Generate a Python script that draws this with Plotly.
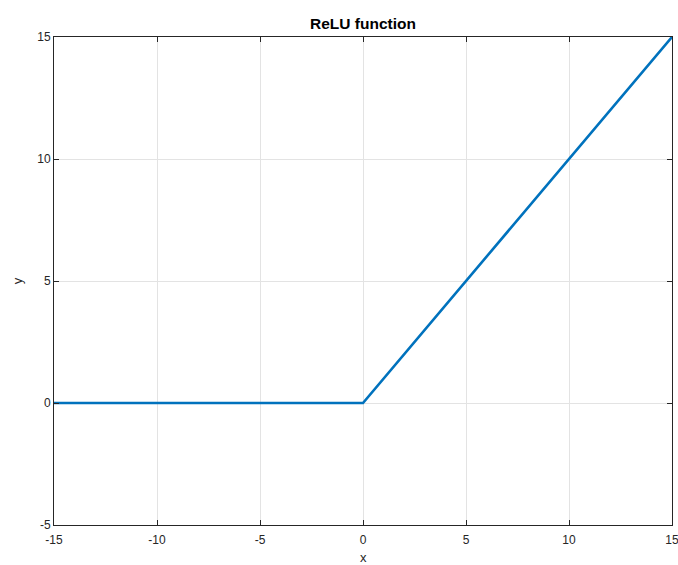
import plotly.graph_objects as go

# ReLU breakpoints: flat at zero for negative inputs, identity for positive
x_vals = [-15, 0, 15]
y_vals = [0, 0, 15]

x_ticks = [-15, -10, -5, 0, 5, 10, 15]
x_tick_text = ["-15", "-10", "-5", "0", "5", "10", "15"]
y_ticks = [-5, 0, 5, 10, 15]
y_tick_text = ["-5", "0", "5", "10", "15"]

FONT = "Liberation Sans, Arial, Helvetica, sans-serif"
AXIS_COLOR = "#262626"
GRID_COLOR = "#e3e3e3"

fig = go.Figure()
fig.add_trace(go.Scatter(
    x=x_vals, y=y_vals, mode="lines",
    line=dict(color="#0072BD", width=2.6),
    showlegend=False,
))

axis_common = dict(
    showline=True, linecolor=AXIS_COLOR, linewidth=1,
    mirror="ticks", ticks="inside", ticklen=5, tickcolor=AXIS_COLOR, tickwidth=1,
    showgrid=True, gridcolor=GRID_COLOR, gridwidth=1,
    zeroline=False, ticklabeloverflow="allow", automargin=False,
    tickfont=dict(family=FONT, size=12, color="#262626"),
)

fig.update_layout(
    width=678, height=565,
    margin=dict(l=54, r=6, t=37, b=40),
    paper_bgcolor="white", plot_bgcolor="white",
    title=dict(text="<b>ReLU function</b>", xref="paper", x=0.5, xanchor="center",
               yref="container", y=1 - 24 / 565, yanchor="middle",
               font=dict(family=FONT, size=15.5, color="black")),
    xaxis=dict(range=[-15, 15], tickvals=x_ticks, ticktext=x_tick_text,
               ticklabelstandoff=4, **axis_common),
    yaxis=dict(range=[-5, 15], tickvals=y_ticks, ticktext=y_tick_text,
               title=dict(text="y", standoff=11, font=dict(family=FONT, size=13, color="#262626")),
               **axis_common),
)

# x-axis label placed low, just above the bottom edge of the canvas
fig.add_annotation(
    text="x", xref="paper", yref="paper", x=0.5, y=-32 / 488,
    xanchor="center", yanchor="middle", showarrow=False,
    font=dict(family=FONT, size=13, color="#262626"),
)

fig.write_html("out.html")
